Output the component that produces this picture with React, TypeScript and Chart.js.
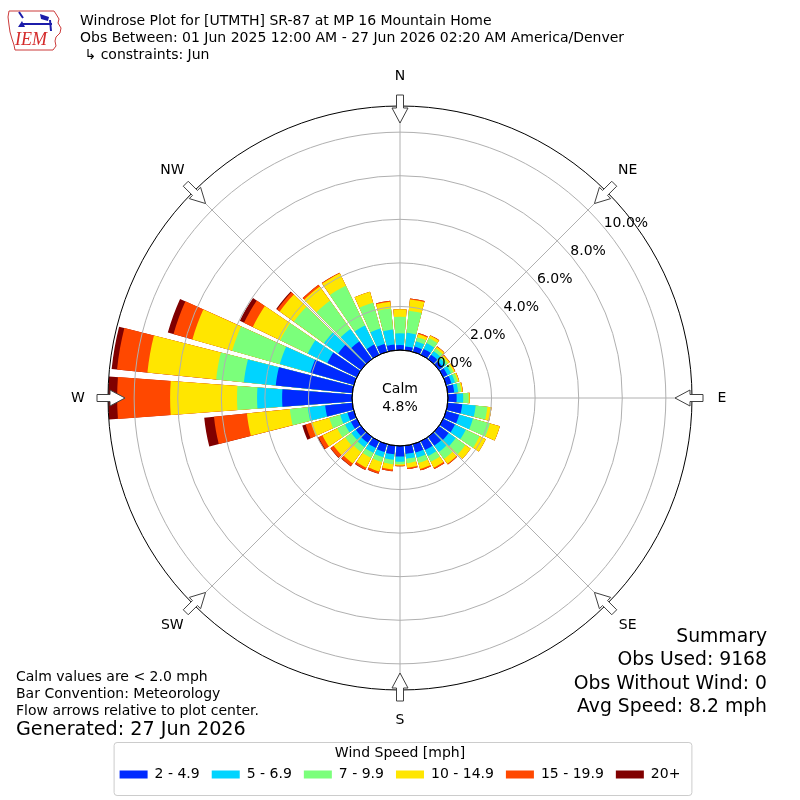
import React, { useEffect, useRef } from "react";
import { Chart, registerables } from "chart.js";

Chart.register(...registerables);

const FONT = '"DejaVu Sans", sans-serif';
Chart.defaults.font.family = FONT;

// ---- data ----
const DIRECTIONS = [0, 10, 20, 30, 40, 50, 60, 70, 80, 90, 100, 110, 120, 130, 140, 150, 160, 170,
  180, 190, 200, 210, 220, 230, 240, 250, 260, 270, 280, 290, 300, 310, 320, 330, 340, 350];

const SPEED_LABELS = ["2 - 4.9", "5 - 6.9", "7 - 9.9", "10 - 14.9", "15 - 19.9", "20+"];
const SPEED_COLORS = ["#002aff", "#00d4ff", "#7bff7b", "#ffe600", "#ff4800", "#800000"];

// percent of observations per direction for each speed class
const SPEED_2_5 = [0.23, 0.18, 0.25, 0.30, 0.25, 0.22, 0.22, 0.25, 0.30, 0.40, 0.67, 0.62, 0.60, 0.55, 0.50, 0.45, 0.40, 0.38,
  0.49, 0.40, 0.38, 0.35, 0.33, 0.30, 0.30, 0.30, 1.25, 3.21, 3.53, 2.07, 1.50, 1.30, 1.00, 0.52, 0.38, 0.27];
const SPEED_5_7 = [0.54, 0.63, 0.25, 0.30, 0.20, 0.18, 0.18, 0.17, 0.18, 0.30, 0.62, 0.66, 0.55, 0.40, 0.35, 0.30, 0.25, 0.22,
  0.23, 0.25, 0.24, 0.25, 0.25, 0.25, 0.30, 0.35, 0.80, 1.15, 1.47, 1.46, 1.00, 0.80, 0.70, 0.97, 0.73, 0.69];
const SPEED_7_10 = [0.76, 1.01, 0.20, 0.25, 0.15, 0.12, 0.12, 0.13, 0.14, 0.25, 0.54, 0.81, 0.70, 0.55, 0.40, 0.30, 0.25, 0.20,
  0.12, 0.20, 0.23, 0.25, 0.27, 0.35, 0.40, 0.52, 0.83, 0.92, 1.28, 2.27, 1.40, 1.70, 1.60, 2.03, 1.23, 0.97];
const SPEED_10_15 = [0.34, 0.52, 0.15, 0.13, 0.10, 0.08, 0.08, 0.07, 0.07, 0.05, 0.19, 0.47, 0.32, 0.29, 0.27, 0.30, 0.28, 0.22,
  0.06, 0.25, 0.45, 0.50, 0.65, 0.65, 0.75, 0.87, 1.98, 3.07, 3.17, 1.90, 1.40, 0.80, 0.80, 0.63, 0.53, 0.31];
const SPEED_15_20 = [0, 0.05, 0.05, 0.02, 0.02, 0.02, 0.02, 0.01, 0.01, 0, 0, 0, 0, 0, 0.04, 0.07, 0.07, 0.06,
  0.03, 0.08, 0.10, 0.10, 0.15, 0.17, 0.20, 0.26, 1.52, 2.43, 1.40, 0.90, 0.45, 0.15, 0.10, 0.03, 0, 0.04];
const SPEED_20P = [0, 0, 0, 0, 0, 0, 0, 0, 0, 0, 0, 0, 0, 0, 0, 0, 0, 0,
  0, 0, 0.01, 0.02, 0.02, 0.02, 0.05, 0.16, 0.45, 0.41, 0.25, 0.27, 0.21, 0.05, 0, 0, 0, 0];

const SPEED_SERIES = [SPEED_2_5, SPEED_5_7, SPEED_7_10, SPEED_10_15, SPEED_15_20, SPEED_20P];

const RING_TICKS = [0, 2, 4, 6, 8, 10];
const R_MIN = -2.2;
const R_MAX = 11.2;
const TICK_LABEL_ANGLE = 50;
const BAR_DEG = 8.5;
const GAP_DEG = 1.5;

const COMPASS_LABELS = ["N", "NE", "E", "SE", "S", "SW", "W", "NW"];
const CALM_TEXT = ["Calm", "4.8%"];
const TITLE_LINES = [
  "Windrose Plot for [UTMTH] SR-87 at MP 16 Mountain Home",
  "Obs Between: 01 Jun 2025 12:00 AM - 27 Jun 2026 02:20 AM America/Denver",
  " \u21b3 constraints: Jun",
];
const NOTE_LINES = [
  "Calm values are < 2.0 mph",
  "Bar Convention: Meteorology",
  "Flow arrows relative to plot center.",
];
const GENERATED_TEXT = "Generated: 27 Jun 2026";
const SUMMARY_LINES = ["Summary", "Obs Used: 9168", "Obs Without Wind: 0", "Avg Speed: 8.2 mph"];
const LEGEND_TITLE = "Wind Speed [mph]";

// ---- helpers ----
function buildDatasets() {
  const labels: string[] = [];
  DIRECTIONS.forEach((d) => {
    labels.push(d + "\u00b0");
    labels.push("");
  });
  const datasets = SPEED_SERIES.map((_, k) => {
    const data: number[] = [];
    DIRECTIONS.forEach((_d, i) => {
      let cum = 0;
      for (let j = 0; j <= k; j++) cum += SPEED_SERIES[j][i];
      data.push(cum);
      data.push(R_MIN); // gap element, zero radius
    });
    return {
      label: SPEED_LABELS[k],
      data,
      backgroundColor: SPEED_COLORS[k],
      borderWidth: 0,
      angle: (ctx: any) => (ctx.dataIndex % 2 === 0 ? BAR_DEG : GAP_DEG),
    };
  });
  return { labels, datasets };
}

function polar(cx: number, cy: number, r: number, deg: number, off = 0): [number, number] {
  const t = (deg * Math.PI) / 180;
  return [cx + Math.sin(t) * r + Math.cos(t) * off, cy - Math.cos(t) * r + Math.sin(t) * off];
}

function drawLogo(ctx: CanvasRenderingContext2D) {
  ctx.save();
  ctx.strokeStyle = "#cc3b3b";
  ctx.lineWidth = 1;
  const pts = [[9, 11], [54, 11], [56, 14], [59, 19], [58, 23], [61, 28], [60, 33], [56, 37], [55, 41], [56, 46],
    [53, 50], [15, 50], [14, 45], [12, 39], [10, 32], [9, 25], [8, 17]];
  ctx.beginPath();
  pts.forEach(([x, y], i) => (i ? ctx.lineTo(x, y) : ctx.moveTo(x, y)));
  ctx.closePath();
  ctx.stroke();
  ctx.strokeStyle = "#1c1caa";
  ctx.fillStyle = "#1c1caa";
  ctx.lineWidth = 2;
  ctx.beginPath();
  ctx.moveTo(22, 24);
  ctx.lineTo(52, 24);
  ctx.moveTo(19, 12);
  ctx.lineTo(23, 18);
  ctx.moveTo(50, 20);
  ctx.lineTo(51, 31);
  ctx.stroke();
  ctx.beginPath();
  ctx.moveTo(40, 14);
  ctx.lineTo(49, 17);
  ctx.lineTo(48, 21);
  ctx.lineTo(41, 19);
  ctx.closePath();
  ctx.fill();
  ctx.beginPath();
  ctx.moveTo(18, 27);
  ctx.lineTo(22, 21);
  ctx.lineTo(25, 27);
  ctx.closePath();
  ctx.fill();
  ctx.fillStyle = "#d42a2a";
  ctx.font = 'italic 18px "Liberation Serif", serif';
  ctx.textAlign = "left";
  ctx.textBaseline = "alphabetic";
  ctx.fillText("IEM", 15, 45);
  ctx.restore();
}

const windrosePlugin = {
  id: "windroseDecor",
  beforeDraw(chart: any) {
    const { ctx } = chart;
    ctx.save();
    ctx.fillStyle = "#ffffff";
    ctx.fillRect(0, 0, chart.width, chart.height);
    const lg = chart.legend;
    const hb = lg && lg.legendHitBoxes;
    if (hb && hb.length) {
      const last = hb[hb.length - 1];
      const x0 = hb[0].left - 6;
      const x1 = last.left + last.width + 11;
      const y0 = lg.top + 52;
      const y1 = lg.bottom + 3.5;
      ctx.beginPath();
      if (ctx.roundRect) ctx.roundRect(x0 + 0.5, y0 + 0.5, x1 - x0, y1 - y0, 3);
      else ctx.rect(x0 + 0.5, y0 + 0.5, x1 - x0, y1 - y0);
      ctx.fillStyle = "#ffffff";
      ctx.fill();
      ctx.strokeStyle = "#cccccc";
      ctx.lineWidth = 1;
      ctx.stroke();
    }
    ctx.restore();
  },
  beforeDatasetsDraw(chart: any) {
    const { ctx } = chart;
    const sc = chart.scales.r;
    const cx = sc.xCenter;
    const cy = sc.yCenter;
    const r0 = sc.getDistanceFromCenterForValue(0);
    const r1 = sc.getDistanceFromCenterForValue(R_MAX);
    ctx.save();
    ctx.strokeStyle = "#b0b0b0";
    ctx.lineWidth = 1;
    for (let i = 0; i < 8; i++) {
      const a = i * 45;
      const [xa, ya] = polar(cx, cy, r0, a);
      const [xb, yb] = polar(cx, cy, r1, a);
      ctx.beginPath();
      ctx.moveTo(xa, ya);
      ctx.lineTo(xb, yb);
      ctx.stroke();
    }
    ctx.restore();
  },
  afterDatasetsDraw(chart: any) {
    const { ctx } = chart;
    const sc = chart.scales.r;
    const r0 = sc.getDistanceFromCenterForValue(0);
    ctx.save();
    ctx.beginPath();
    ctx.arc(sc.xCenter, sc.yCenter, r0, 0, Math.PI * 2);
    ctx.fillStyle = "#ffffff";
    ctx.fill();
    ctx.restore();
  },
  afterDraw(chart: any) {
    const { ctx } = chart;
    const sc = chart.scales.r;
    const cx = sc.xCenter;
    const cy = sc.yCenter;
    const R = sc.getDistanceFromCenterForValue(R_MAX);
    const r0 = sc.getDistanceFromCenterForValue(0);
    ctx.save();

    // calm circle border
    ctx.beginPath();
    ctx.arc(cx, cy, r0, 0, Math.PI * 2);
    ctx.strokeStyle = "#000";
    ctx.lineWidth = 1;
    ctx.stroke();

    // flow arrows
    for (let i = 0; i < 8; i++) {
      const a = i * 45;
      const shape: [number, number][] = [
        [R + 11, -3.5], [R - 2, -3.5], [R - 2, -8], [R - 17, 0], [R - 2, 8], [R - 2, 3.5], [R + 11, 3.5],
      ];
      ctx.beginPath();
      shape.forEach(([r, o], j) => {
        const [x, y] = polar(cx, cy, r, a, o);
        if (j) ctx.lineTo(x, y);
        else ctx.moveTo(x, y);
      });
      ctx.closePath();
      ctx.fillStyle = "#ffffff";
      ctx.fill();
      ctx.strokeStyle = "#404040";
      ctx.lineWidth = 1;
      ctx.stroke();
    }

    // compass labels
    ctx.fillStyle = "#000";
    ctx.font = "14px " + FONT;
    ctx.textAlign = "center";
    ctx.textBaseline = "middle";
    COMPASS_LABELS.forEach((lab, i) => {
      const [x, y] = polar(cx, cy, R + 30, i * 45);
      ctx.fillText(lab, x, y);
    });

    // radial tick labels
    ctx.textAlign = "left";
    ctx.textBaseline = "alphabetic";
    RING_TICKS.forEach((v) => {
      const r = sc.getDistanceFromCenterForValue(v);
      const [x, y] = polar(cx, cy, r, TICK_LABEL_ANGLE);
      ctx.fillText(v.toFixed(1) + "%", x, y);
    });

    // calm text
    ctx.textAlign = "center";
    ctx.textBaseline = "middle";
    ctx.fillText(CALM_TEXT[0], cx, cy - 9);
    ctx.fillText(CALM_TEXT[1], cx, cy + 9);

    // title
    ctx.textAlign = "left";
    ctx.textBaseline = "alphabetic";
    ctx.font = "14px " + FONT;
    const titleBase = [25, 42, 59];
    TITLE_LINES.forEach((t, i) => ctx.fillText(t, 80, titleBase[i]));

    // notes
    const noteBase = [681, 698, 715];
    NOTE_LINES.forEach((t, i) => ctx.fillText(t, 16, noteBase[i]));
    ctx.font = "19.2px " + FONT;
    ctx.fillText(GENERATED_TEXT, 16, 735);

    // summary
    ctx.font = "18.8px " + FONT;
    ctx.textAlign = "right";
    const sumBase = [642, 665, 689, 712];
    SUMMARY_LINES.forEach((t, i) => ctx.fillText(t, 767, sumBase[i]));

    ctx.restore();
    drawLogo(ctx);
  },
};

export default function App() {
  const canvasRef = useRef<HTMLCanvasElement | null>(null);

  useEffect(() => {
    const canvas = canvasRef.current;
    if (!canvas) return;
    const { labels, datasets } = buildDatasets();
    const chart = new Chart(canvas, {
      type: "polarArea",
      data: { labels, datasets: datasets as any },
      options: {
        responsive: false,
        animation: false,
        events: [],
        layout: { padding: { left: 50, right: 50, top: 106, bottom: 8.5 } },
        scales: {
          r: {
            min: R_MIN,
            max: R_MAX,
            startAngle: -BAR_DEG / 2,
            afterBuildTicks: (scale: any) => {
              scale.ticks = [...RING_TICKS, R_MAX].map((v) => ({ value: v }));
            },
            ticks: { display: false },
            pointLabels: { display: false },
            angleLines: { display: false },
            grid: {
              circular: true,
              z: 1,
              lineWidth: 1,
              color: (ctx: any) =>
                ctx.tick && (ctx.tick.value === 0 || ctx.tick.value === R_MAX) ? "#000000" : "#b0b0b0",
            },
          } as any,
        },
        plugins: {
          tooltip: { enabled: false },
          legend: {
            display: true,
            position: "bottom",
            onClick: () => {},
            title: {
              display: true,
              text: LEGEND_TITLE,
              color: "#000",
              font: { family: FONT, size: 14 },
              padding: { top: 56, bottom: -7.3 } as any,
            },
            labels: {
              color: "#000",
              font: { family: FONT, size: 14 },
              boxWidth: 28,
              boxHeight: 8,
              padding: 12,
              generateLabels: (ch: any) =>
                ch.data.datasets.map((ds: any, i: number) => ({
                  text: ds.label,
                  fillStyle: SPEED_COLORS[i],
                  strokeStyle: SPEED_COLORS[i],
                  lineWidth: 0,
                  hidden: false,
                  datasetIndex: i,
                  fontColor: "#000",
                })),
            },
          },
        },
      } as any,
      plugins: [windrosePlugin],
    });
    return () => chart.destroy();
  }, []);

  return (
    <div style={{ position: "absolute", left: 0, top: 0, width: 800, height: 800, background: "#fff" }}>
      <canvas ref={canvasRef} width={800} height={800} style={{ display: "block", width: 800, height: 800 }} />
    </div>
  );
}
